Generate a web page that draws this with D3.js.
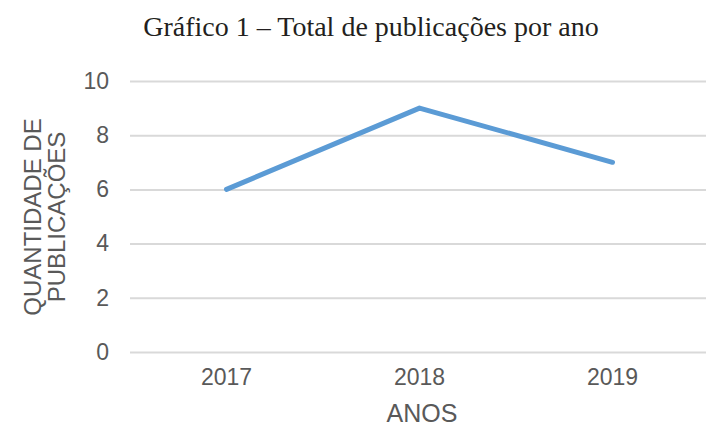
<!DOCTYPE html>
<html><head><meta charset="utf-8">
<script src="https://cdn.jsdelivr.net/npm/d3@7"></script>
<style>body{margin:0;background:#fff}</style>
</head><body>
<svg id="c" width="709" height="428"></svg>
<script>
const titleText = "Gráfico 1 – Total de publicações por ano";
const years = ["2017", "2018", "2019"];
const publications = [6, 9, 7];
const yTicks = [0, 2, 4, 6, 8, 10];
const xTitle = "ANOS";
const yTitleLines = ["QUANTIDADE DE", "PUBLICAÇÕES"];

const svg = d3.select("#c");
const x = d3.scaleBand().domain(years).range([130, 709]);
const y = d3.scaleLinear().domain([0, 10]).range([352, 81]);

svg.append("text").attr("x", 371).attr("y", 36).attr("text-anchor", "middle")
  .attr("font-family", "Liberation Serif, serif").attr("font-size", 28).attr("fill", "#231f20")
  .text(titleText);

const yAxis = d3.axisLeft(y).tickValues(yTicks).tickSize(-576).tickPadding(21);
const gy = svg.append("g").attr("transform", "translate(130,0)").call(yAxis);
gy.select(".domain").remove();
gy.selectAll(".tick line").attr("stroke", "#d9d9d9").attr("stroke-width", 2);
gy.selectAll(".tick text").attr("font-family", "Liberation Sans, Arial, sans-serif")
  .attr("font-size", 23).attr("fill", "#595959");

const xAxis = d3.axisBottom(x).tickSize(0).tickPadding(17);
const gx = svg.append("g").attr("transform", "translate(0,352)").call(xAxis);
gx.select(".domain").remove();
gx.selectAll(".tick text").attr("font-family", "Liberation Sans, Arial, sans-serif")
  .attr("font-size", 23).attr("fill", "#595959");

const line = d3.line().x((d, i) => x(years[i]) + x.bandwidth() / 2).y(d => y(d));
svg.append("path").datum(publications).attr("d", line).attr("fill", "none")
  .attr("stroke", "#5b9bd5").attr("stroke-width", 5).attr("stroke-linejoin", "round").attr("stroke-linecap", "round");

svg.append("text").attr("x", 422).attr("y", 422).attr("text-anchor", "middle")
  .attr("font-family", "Liberation Sans, Arial, sans-serif").attr("font-size", 25).attr("fill", "#595959")
  .text(xTitle);

const yt = svg.append("text").attr("transform", "translate(0,217) rotate(-90)")
  .attr("text-anchor", "middle").attr("font-family", "Liberation Sans, Arial, sans-serif")
  .attr("font-size", 24).attr("fill", "#595959");
yTitleLines.forEach((t, i) => {
  yt.append("tspan").attr("x", 0).attr("y", 41 + i * 24).text(t);
});
</script>
</body></html>
